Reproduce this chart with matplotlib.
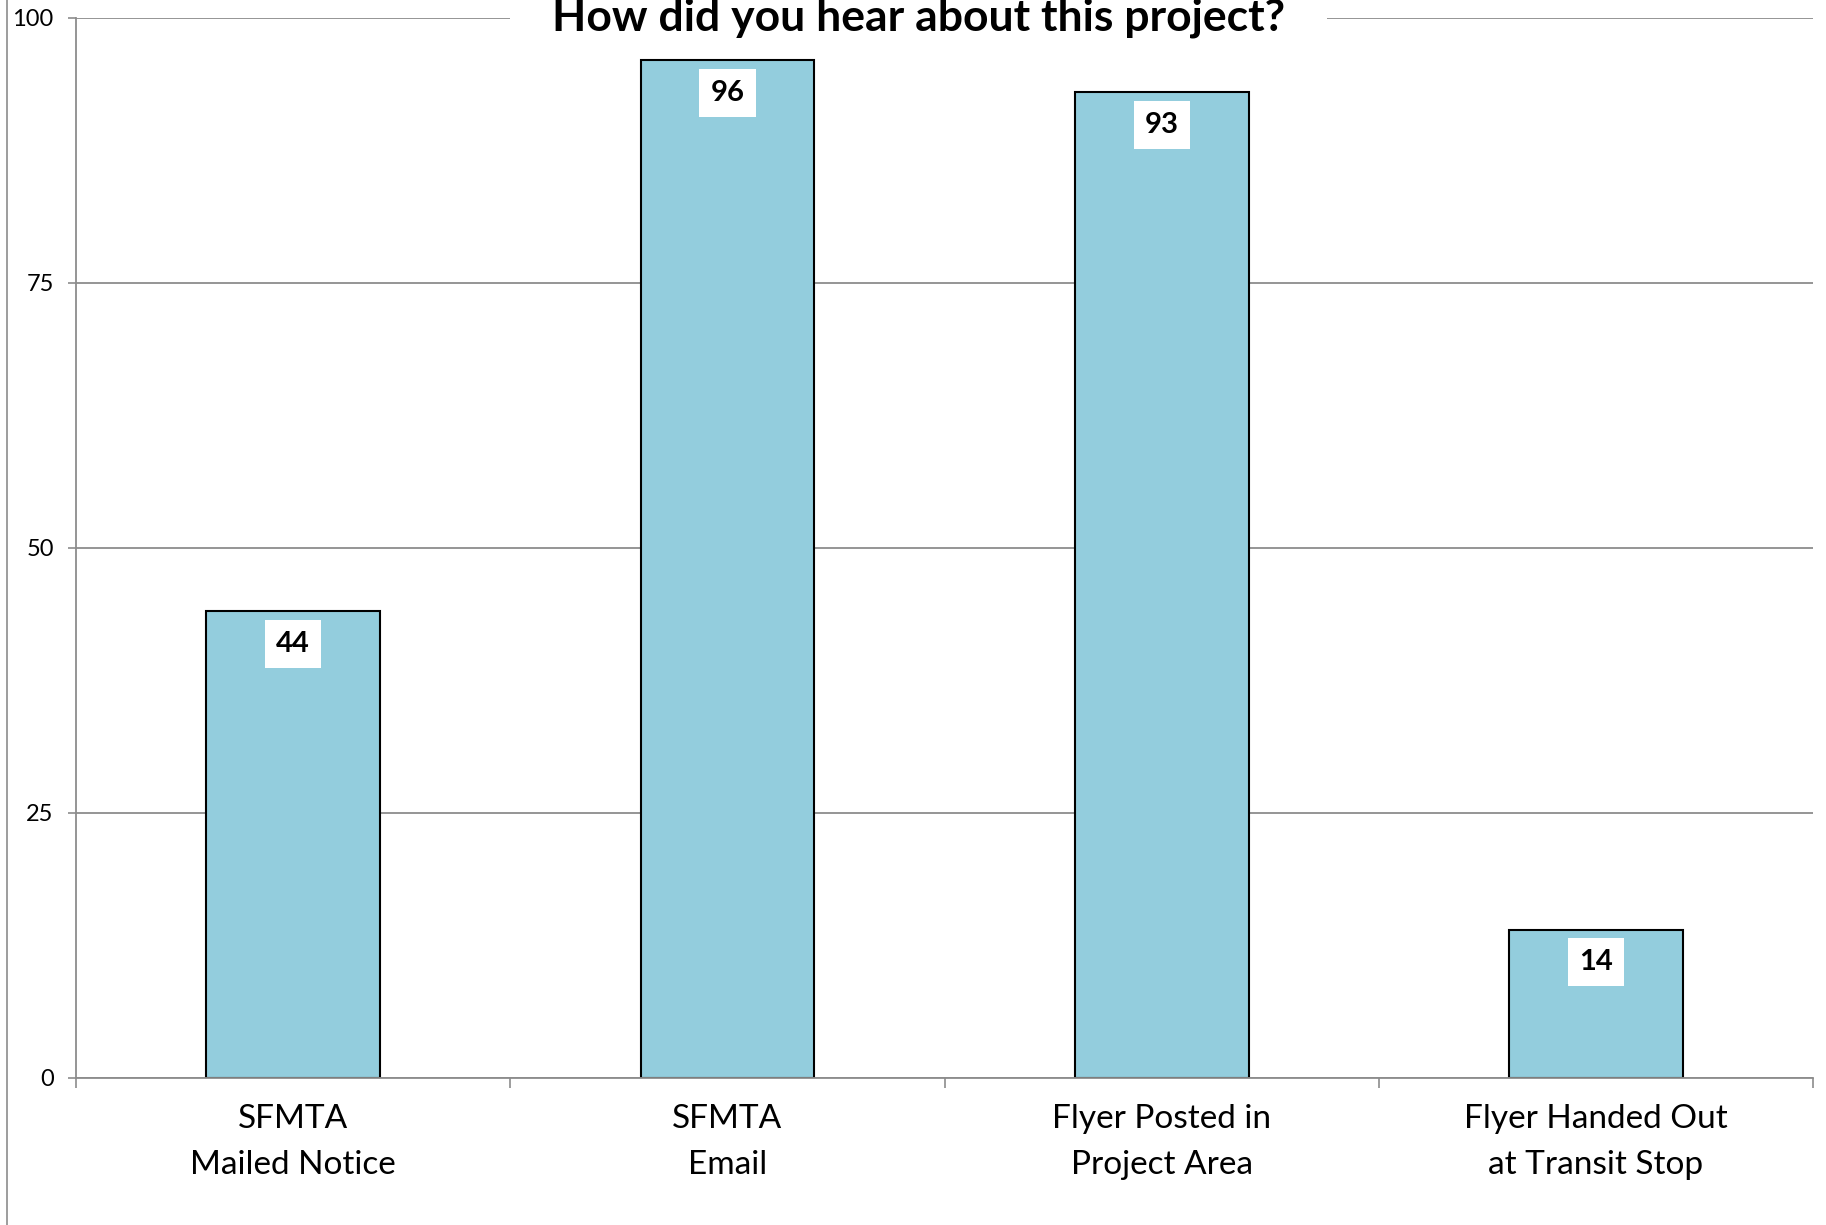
import matplotlib
matplotlib.use("Agg")
import matplotlib.pyplot as plt
from matplotlib.lines import Line2D

# Data
categories = ["SFMTA\nMailed Notice", "SFMTA\nEmail", "Flyer Posted in\nProject Area", "Flyer Handed Out\nat Transit Stop"]
counts = [44, 96, 93, 14]
y_ticks = [0, 25, 50, 75, 100]

plt.rcParams["font.family"] = ["Lato", "DejaVu Sans"]

fig = plt.figure(figsize=(18.26, 12.25), dpi=100)
ax = fig.add_axes([0.0416, 0.12, 0.9514, 0.8657])

x = list(range(len(categories)))
ax.bar(x, counts, width=0.4, color="#93CDDD", edgecolor="black", linewidth=1.5, zorder=3)

ax.set_xlim(-0.5, len(categories) - 0.5)
ax.set_ylim(0, 100)

# gridlines
ax.set_yticks(y_ticks)
ax.yaxis.grid(True, color="#8c8c8c", linewidth=1.3, zorder=0)
ax.tick_params(axis="y", direction="out", length=6, width=1.2, color="#8c8c8c", labelsize=17, pad=10)

# category labels at centers, tick marks at boundaries
ax.set_xticks(x)
ax.set_xticklabels(categories, fontsize=24, linespacing=1.65)
ax.set_xticks([i - 0.5 for i in range(len(categories) + 1)], minor=True)
ax.tick_params(axis="x", which="major", length=0, pad=19)
ax.tick_params(axis="x", which="minor", direction="out", length=7, width=1.2, color="#8c8c8c")

for side in ["top", "right"]:
    ax.spines[side].set_visible(False)
for side in ["left", "bottom"]:
    ax.spines[side].set_color("#8c8c8c")
    ax.spines[side].set_linewidth(1.3)
    ax.spines[side].set_zorder(4)

# data labels
for xi, v in zip(x, counts):
    ax.text(xi, v - 3.1, str(v), ha="center", va="center", fontsize=21, fontweight="bold",
            bbox=dict(facecolor="white", edgecolor="none", pad=8), zorder=5)

# title sitting on the top gridline (below the bars so it only breaks the gridline)
ax.text(1.44, 100, "How did you hear about this project?", ha="center", va="center",
        fontsize=32, fontweight="bold",
        bbox=dict(facecolor="white", edgecolor="none", pad=30), zorder=2.5, clip_on=False)

# left border of the chart area
fig.add_artist(Line2D([0.0038, 0.0038], [0, 1], transform=fig.transFigure, color="#8c8c8c", linewidth=1.2))

plt.savefig("out.png", dpi=100)
